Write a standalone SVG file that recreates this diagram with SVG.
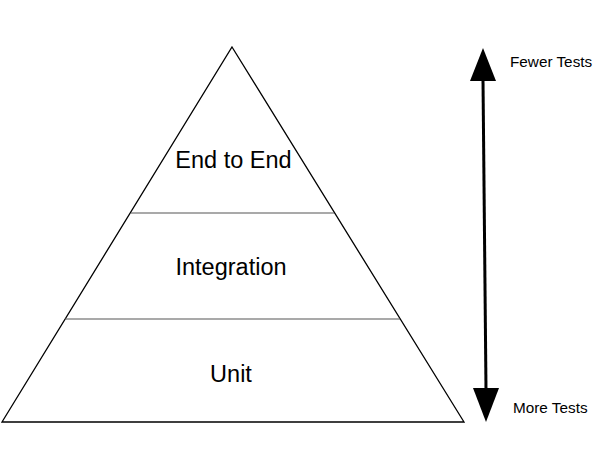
<svg xmlns="http://www.w3.org/2000/svg" width="600" height="470" viewBox="0 0 600 470">
  <style>
    .edge { fill: none; stroke: #000; stroke-width: 1.3; }
    .divider { stroke: #555; stroke-width: 1.2; }
    .label { font-family: "Liberation Sans", Arial, sans-serif; font-size: 23.5px; fill: #000; text-anchor: middle; }
    .side { font-family: "Liberation Sans", Arial, sans-serif; font-size: 15.3px; fill: #000; }
  </style>
  <rect width="600" height="470" fill="#fff"/>
  <g id="pyramid">
    <polygon class="edge" points="232,47 464,422 2,422"/>
  </g>
  <g id="connectors">
    <line class="divider" x1="131" y1="213" x2="334" y2="213"/>
    <line class="divider" x1="65" y1="319" x2="400" y2="319"/>
    <line x1="483" y1="80" x2="486" y2="390" stroke="#000" stroke-width="3"/>
    <polygon points="483,48 470,81 496,81" fill="#000"/>
    <polygon points="486,422 473,388 499,388" fill="#000"/>
  </g>
  <g id="end-to-end">
    <text class="label" x="233.5" y="168">End to End</text>
  </g>
  <g id="integration">
    <text class="label" x="231" y="275">Integration</text>
  </g>
  <g id="unit">
    <text class="label" x="231" y="382">Unit</text>
  </g>
  <g id="fewer-tests">
    <text class="side" x="510" y="67">Fewer Tests</text>
  </g>
  <g id="more-tests">
    <text class="side" x="513" y="413">More Tests</text>
  </g>
</svg>
